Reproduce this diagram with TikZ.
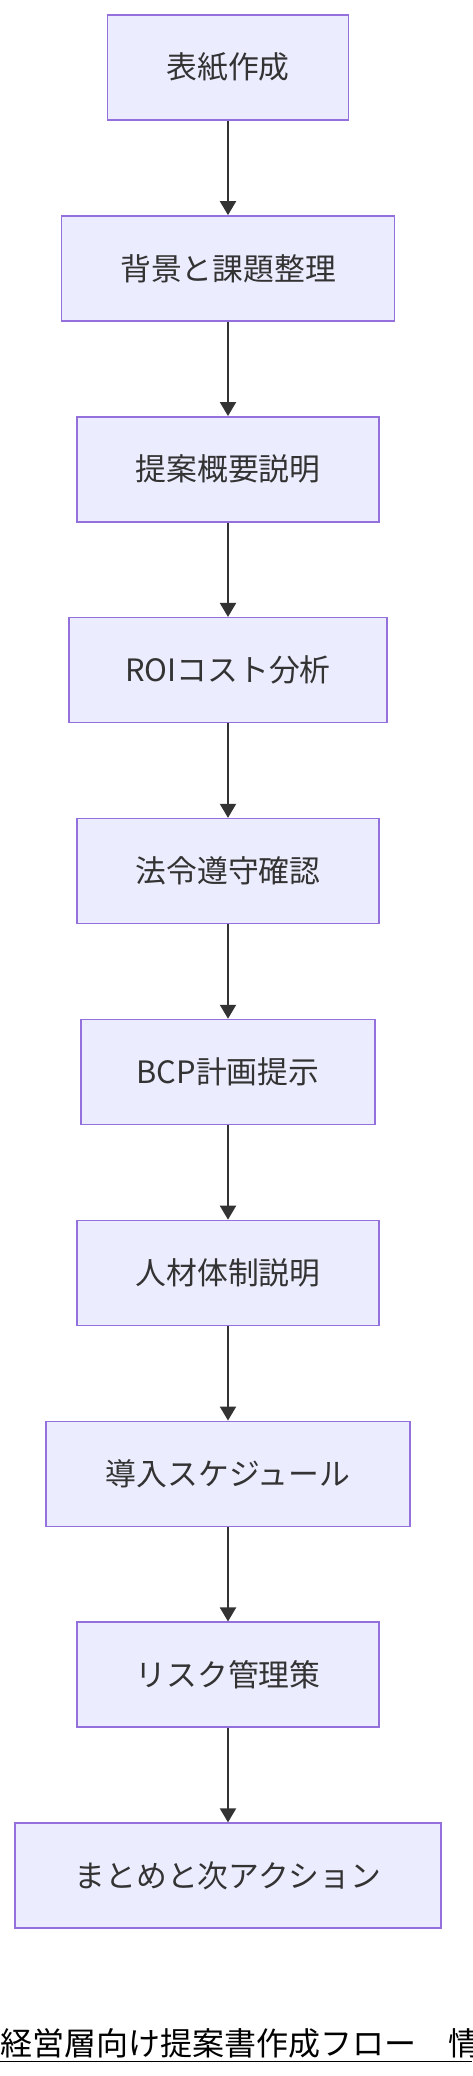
\documentclass[tikz,border=0pt]{standalone}
\usepackage{fontspec}
\setmainfont{Noto Sans CJK JP}
\usetikzlibrary{arrows.meta}
\definecolor{boxfill}{HTML}{ECECFF}
\definecolor{boxline}{HTML}{9370DB}
\definecolor{ink}{HTML}{333333}
\begin{document}
\begin{tikzpicture}[x=1pt,y=-1pt,
  stepbox/.style={draw=boxline,fill=boxfill,line width=1.5pt,rectangle,
    minimum height=105pt,inner sep=0pt,text=ink,
    font=\fontsize{30.8}{37}\selectfont},
  flow/.style={draw=ink,line width=2pt,-{Triangle[length=14pt,width=16pt]}}]
\useasboundingbox (0,0) rectangle (472,2076);
\fill[white] (0,0) rectangle (472,2076);
\node[stepbox,minimum width=241pt] (n1) at (228,67.5) {表紙作成};
\node[stepbox,minimum width=333pt] (n2) at (228,268.4) {背景と課題整理};
\node[stepbox,minimum width=302pt] (n3) at (228,469.3) {提案概要説明};
\node[stepbox,minimum width=318pt] (n4) at (228,670.2) {ROIコスト分析};
\node[stepbox,minimum width=302pt] (n5) at (228,871.1) {法令遵守確認};
\node[stepbox,minimum width=294pt] (n6) at (228,1072.0) {BCP計画提示};
\node[stepbox,minimum width=302pt] (n7) at (228,1272.9) {人材体制説明};
\node[stepbox,minimum width=364pt] (n8) at (228,1473.8) {導入スケジュール};
\node[stepbox,minimum width=302pt] (n9) at (228,1674.7) {リスク管理策};
\node[stepbox,minimum width=426pt] (n10) at (228,1875.6) {まとめと次アクション};
\foreach \a/\b in {n1/n2,n2/n3,n3/n4,n4/n5,n5/n6,n6/n7,n7/n8,n8/n9,n9/n10}
  \draw[flow] (\a.south) -- (\b.north);
\begin{scope}
\clip (0,0) rectangle (472,2076);
\node[anchor=base west,inner sep=0pt,text=black,font=\fontsize{32}{38}\selectfont] (title) at (0,2055) {経営層向け提案書作成フロー　情};
\coordinate (ul1) at (0,2061.5);
\coordinate (ul2) at (472,2061.5);
\draw[black,line width=1.5pt] (ul1) -- (ul2);
\end{scope}
\end{tikzpicture}
\end{document}
